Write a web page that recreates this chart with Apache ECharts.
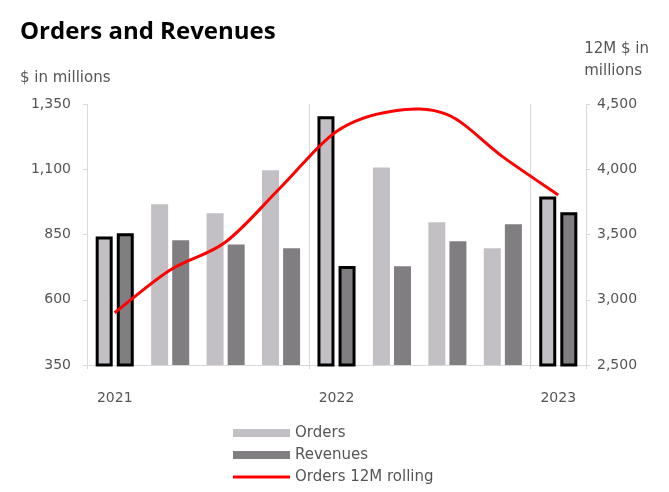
<!DOCTYPE html>
<html>
<head>
<meta charset="utf-8">
<script src="https://cdn.jsdelivr.net/npm/echarts@6/dist/echarts.min.js"></script>
<style>
html,body{margin:0;padding:0;background:#fff;}
#chart{width:669px;height:492px;}
</style>
</head>
<body>
<div id="chart"></div>
<script>
const categories = ['2021', '', '', '', '2022', '', '', '', '2023'];
const orders = [842, 966, 931, 1096, 1303, 1107, 897, 797, 996];
const revenues = [855, 828, 812, 797, 729, 728, 824, 889, 935];
const orders12M = [2900, 3228, 3443, 3864, 4290, 4445, 4418, 4095, 3803];
const leftTicks = [350, 600, 850, 1100, 1350];
const rightTicks = [2500, 3000, 3500, 4000, 4500];
const outlined = [0, 4, 8];

const font = 'DejaVu Sans';
const txt = '#555555';
const axisGrey = '#d9d9d9';
const fmt = v => v.toLocaleString('en-US');

function barData(vals) {
  return vals.map((v, i) => outlined.includes(i)
    ? { value: v, itemStyle: { borderColor: '#000', borderWidth: 3 } }
    : v);
}

// Smooth curve (Catmull-Rom style, like spreadsheet smoothing) through points given by the axes
function renderRolling(params, api) {
  if (params.dataIndex !== 0) return null;
  const pts = orders12M.map((v, i) => api.coord([i, v]));
  let d = 'M' + pts[0][0] + ',' + pts[0][1];
  const t = 1 / 6;
  for (let i = 0; i < pts.length - 1; i++) {
    const p0 = pts[i - 1] || pts[i], p1 = pts[i], p2 = pts[i + 1], p3 = pts[i + 2] || pts[i + 1];
    const c1x = p1[0] + (p2[0] - p0[0]) * t, c1y = p1[1] + (p2[1] - p0[1]) * t;
    const c2x = p2[0] - (p3[0] - p1[0]) * t, c2y = p2[1] - (p3[1] - p1[1]) * t;
    d += ' C' + c1x + ',' + c1y + ',' + c2x + ',' + c2y + ',' + p2[0] + ',' + p2[1];
  }
  return {
    type: 'path',
    shape: { pathData: d },
    style: { stroke: '#ff0000', lineWidth: 3, fill: null, lineJoin: 'round', lineCap: 'butt' },
    z2: 10
  };
}

const chart = echarts.init(document.getElementById('chart'), null, { renderer: 'canvas' });
chart.setOption({
  animation: false,
  backgroundColor: '#fff',
  title: [
    { text: 'Orders and Revenues', left: 15, top: 15,
      textStyle: { fontFamily: 'Open Sans', fontWeight: 'bold', fontSize: 24, color: '#000' } },
    { text: '$ in millions', left: 15, top: 66,
      textStyle: { fontFamily: font, fontWeight: 'normal', fontSize: 15, color: txt } }
  ],
  graphic: [
    { type: 'text', right: 20, top: 38,
      style: { text: '12M $ in\nmillions', fontFamily: font, fontSize: 15, fill: txt,
        lineHeight: 22, align: 'right' } }
  ],
  grid: { left: 87, right: 83, top: 104, bottom: 127 },
  legend: {
    orient: 'vertical', left: 228, top: 420, height: 100,
    itemWidth: 57, itemHeight: 8, itemGap: 6, symbolKeepAspect: true,
    textStyle: { fontFamily: font, fontSize: 15, color: txt, lineHeight: 16 },
    data: [
      { name: 'Orders', icon: 'rect' },
      { name: 'Revenues', icon: 'rect' },
      { name: 'Orders 12M rolling', icon: 'path://M0,0L57,0L57,3L0,3Z' }
    ]
  },
  xAxis: {
    type: 'category',
    data: categories,
    axisLine: { lineStyle: { color: axisGrey, width: 1 } },
    axisTick: { show: true, length: 4, interval: (i) => i % 4 === 0, lineStyle: { color: axisGrey } },
    splitLine: { show: true, interval: (i) => i % 4 === 0, lineStyle: { color: axisGrey, width: 1 } },
    axisLabel: { interval: 0, margin: 26, fontFamily: font, fontSize: 14, color: txt }
  },
  yAxis: [
    {
      type: 'value', min: 350, max: 1350, interval: 250,
      axisLine: { show: true, lineStyle: { color: axisGrey } },
      axisTick: { show: true, length: 4, lineStyle: { color: axisGrey } },
      splitLine: { show: false },
      axisLabel: { margin: 16, fontFamily: font, fontSize: 14, color: txt,
        formatter: v => leftTicks.includes(v) ? fmt(v) : '' }
    },
    {
      type: 'value', min: 2500, max: 4500, interval: 500, position: 'right',
      axisLine: { show: true, lineStyle: { color: axisGrey } },
      axisTick: { show: true, length: 4, lineStyle: { color: axisGrey } },
      splitLine: { show: false },
      axisLabel: { margin: 11, fontFamily: font, fontSize: 14, color: txt,
        formatter: v => rightTicks.includes(v) ? fmt(v) : '' }
    }
  ],
  series: [
    { name: 'Orders', type: 'bar', data: barData(orders), barWidth: 17, barGap: '24%',
      itemStyle: { color: '#c3c0c5' } },
    { name: 'Revenues', type: 'bar', data: barData(revenues), barWidth: 17,
      itemStyle: { color: '#817e82' } },
    { name: 'Orders 12M rolling', type: 'custom', yAxisIndex: 1, z: 5,
      data: orders12M.map((v, i) => [i, v]),
      encode: { x: 0, y: 1 },
      itemStyle: { color: '#ff0000' },
      renderItem: renderRolling }
  ]
});
</script>
</body>
</html>
